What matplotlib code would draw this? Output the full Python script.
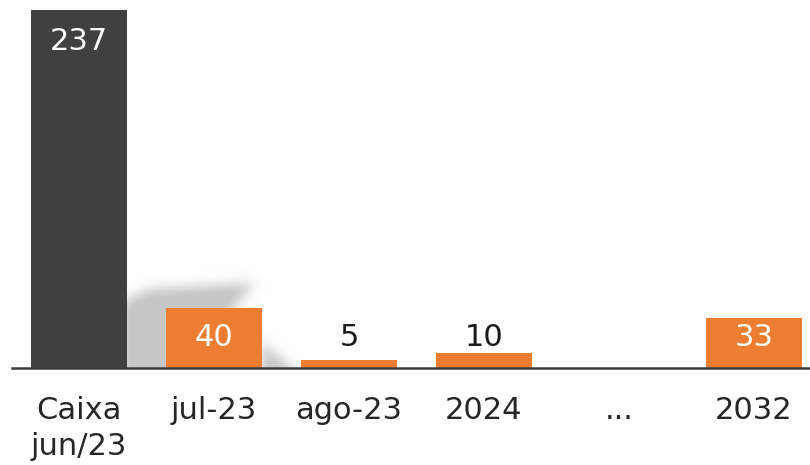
import numpy as np
import matplotlib.pyplot as plt
from matplotlib.path import Path

categories = ["Caixa\njun/23", "jul-23", "ago-23", "2024", "...", "2032"]
values = [237, 40, 5, 10, None, 33]
bar_colors = ["#404040", "#ED7D31", "#ED7D31", "#ED7D31", "#ED7D31", "#ED7D31"]
label_colors = ["white", "white", "#1a1a1a", "#1a1a1a", None, "white"]

plt.rcParams["font.family"] = ["DejaVu Sans"]

W, H = 810, 465
fig = plt.figure(figsize=(W / 100, H / 100), dpi=100)
ax = fig.add_axes([12 / W, 97 / H, 798 / W, 358 / H])

x = np.arange(len(categories))
heights = [v if v is not None else 0 for v in values]
ax.bar(x, heights, width=0.71, color=bar_colors, zorder=2)

# value labels: tall bar gets label near its top, the rest share a common line
for xi, v, c in zip(x, values, label_colors):
    if v is None:
        continue
    y = v - 21 if v > 100 else 20.5
    ax.text(xi, y, str(v), ha="center", va="center", fontsize=22, color=c, zorder=3)

ax.set_xlim(-0.496, 5.415)
ax.set_ylim(0, 237)
ax.set_xticks(x)
ax.set_xticklabels(categories, fontsize=22, color="#262626", linespacing=1.3)
ax.tick_params(axis="x", length=0, pad=20)
ax.set_yticks([])
for s in ["top", "right", "left"]:
    ax.spines[s].set_visible(False)
ax.spines["bottom"].set_color("#3a3d40")
ax.spines["bottom"].set_linewidth(1.8)
ax.patch.set_alpha(0)

# soft drop shadow behind the first orange bar (decorative, in figure pixels)
def blur(a, sigma):
    r = int(3 * sigma)
    k = np.exp(-0.5 * (np.arange(-r, r + 1) / sigma) ** 2)
    k /= k.sum()
    a = np.apply_along_axis(lambda m: np.convolve(m, k, mode="same"), 0, a)
    return np.apply_along_axis(lambda m: np.convolve(m, k, mode="same"), 1, a)

yy, xx = np.mgrid[0:H, 0:W]
pts = np.column_stack([xx.ravel() + 0.5, yy.ravel() + 0.5])
mask = np.zeros(H * W)
shadow_polys = [
    [(122, 380), (122, 302), (150, 289), (255, 283), (168, 380)],
    [(262, 342), (305, 380), (262, 380)],
]
for poly in shadow_polys:
    mask = np.maximum(mask, Path(poly).contains_points(pts).astype(float))
mask = blur(mask.reshape(H, W), 6.0)
mask[368:, :] = 0
rgba = np.zeros((H, W, 4))
rgba[..., :3] = 0.78
rgba[..., 3] = np.clip(mask * 1.05, 0, 1)
sh = fig.add_axes([0, 0, 1, 1], zorder=-1)
sh.imshow(rgba, extent=(0, W, H, 0), interpolation="bilinear")
sh.set_xlim(0, W)
sh.set_ylim(H, 0)
sh.axis("off")

fig.savefig("out.png", dpi=100)
